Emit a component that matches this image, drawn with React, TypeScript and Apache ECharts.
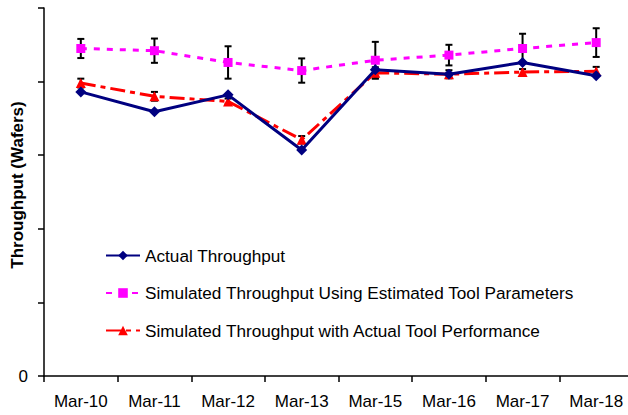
import React, { useEffect, useRef } from "react";
import * as echarts from "echarts";

const categories = ["Mar-10", "Mar-11", "Mar-12", "Mar-13", "Mar-15", "Mar-16", "Mar-17", "Mar-18"];
const actualThroughput = [3.86, 3.59, 3.82, 3.07, 4.16, 4.1, 4.26, 4.08];
const simEstimated = [4.45, 4.42, 4.26, 4.15, 4.29, 4.36, 4.45, 4.53];
const simEstimatedErr = [0.13, 0.165, 0.22, 0.165, 0.25, 0.14, 0.2, 0.195];
const simActual = [3.98, 3.8, 3.73, 3.21, 4.12, 4.1, 4.13, 4.14];
const simActualErr = [0.06, 0.06, 0.04, 0.05, 0.075, 0.055, 0.04, 0.06];
const yTicks = [0, 1, 2, 3, 4, 5];

const FONT = "Liberation Sans, Arial, sans-serif";

function errorSeries(values: number[], errs: number[]) {
  return {
    type: "custom",
    silent: true,
    z: 1,
    renderItem: (params: any, api: any) => {
      const x = api.value(0);
      const lo = api.coord([x, api.value(1)]);
      const hi = api.coord([x, api.value(2)]);
      const cap = 3.5;
      const st = { stroke: "#000", lineWidth: 2 };
      return {
        type: "group",
        children: [
          { type: "line", shape: { x1: lo[0], y1: lo[1], x2: hi[0], y2: hi[1] }, style: st },
          { type: "line", shape: { x1: lo[0] - cap, y1: lo[1], x2: lo[0] + cap, y2: lo[1] }, style: st },
          { type: "line", shape: { x1: hi[0] - cap, y1: hi[1], x2: hi[0] + cap, y2: hi[1] }, style: st },
        ],
      };
    },
    encode: { x: 0, y: [1, 2] },
    data: values.map((v, i) => [i, v - errs[i], v + errs[i]]),
  };
}

export default function App() {
  const ref = useRef<HTMLDivElement>(null);
  useEffect(() => {
    document.body.style.margin = "0";
    const chart = echarts.init(ref.current!, null, { renderer: "svg" });
    chart.setOption({
      animation: false,
      backgroundColor: "#fff",
      grid: {
        left: 44,
        right: -5,
        top: 8,
        bottom: 39,
        containLabel: false,
        outerBoundsMode: "none",
      },
      legend: {
        orient: "vertical",
        left: 105,
        top: 247,
        padding: 0,
        itemWidth: 34,
        itemHeight: 12,
        itemGap: 20.5,
        textStyle: { fontFamily: FONT, fontSize: 17.2, color: "#000", lineHeight: 17 },
        data: [
          "Actual Throughput",
          "Simulated Throughput Using Estimated Tool Parameters",
          "Simulated Throughput with Actual Tool Performance",
        ],
      },
      xAxis: {
        type: "category",
        data: categories,
        boundaryGap: true,
        axisLine: { lineStyle: { color: "#000", width: 1.5 } },
        axisTick: { show: true, length: 6, lineStyle: { color: "#000", width: 1.5 }, alignWithLabel: false },
        axisLabel: { color: "#000", fontFamily: FONT, fontSize: 17, margin: 17 },
        splitLine: { show: false },
      },
      yAxis: {
        type: "value",
        min: yTicks[0],
        max: yTicks[yTicks.length - 1],
        interval: 1,
        name: "Throughput (Wafers)",
        nameLocation: "middle",
        nameGap: 18,
        nameMoveOverlap: false,
        nameTextStyle: {
          fontFamily: FONT,
          fontSize: 17,
          fontWeight: "bold",
          color: "#000",
          padding: [0, 0, 0, 14],
        },
        axisLine: { show: true, lineStyle: { color: "#000", width: 1.5 } },
        axisTick: { show: true, length: 6, lineStyle: { color: "#000", width: 1.5 } },
        axisLabel: {
          color: "#000",
          fontFamily: FONT,
          fontSize: 17,
          margin: 16,
          formatter: (v: number) => (v === 0 ? "0" : ""),
        },
        splitLine: { show: false },
      },
      series: [
        errorSeries(simEstimated, simEstimatedErr),
        errorSeries(simActual, simActualErr),
        {
          name: "Actual Throughput",
          type: "line",
          data: actualThroughput,
          z: 4,
          symbol: "diamond",
          symbolSize: 11,
          itemStyle: { color: "#000080" },
          lineStyle: { color: "#000080", width: 3 },
        },
        {
          name: "Simulated Throughput Using Estimated Tool Parameters",
          type: "line",
          data: simEstimated,
          z: 3,
          symbol: "rect",
          symbolSize: 9,
          itemStyle: { color: "#FF00FF" },
          lineStyle: { color: "#FF00FF", width: 3, type: [6, 7] },
        },
        {
          name: "Simulated Throughput with Actual Tool Performance",
          type: "line",
          data: simActual,
          z: 3,
          symbol: "triangle",
          symbolSize: 10,
          itemStyle: { color: "#FF0000" },
          lineStyle: { color: "#FF0000", width: 3, type: [15, 5, 5, 5] },
        },
      ],
    });
    return () => chart.dispose();
  }, []);
  return <div ref={ref} style={{ width: 628, height: 415 }} />;
}
